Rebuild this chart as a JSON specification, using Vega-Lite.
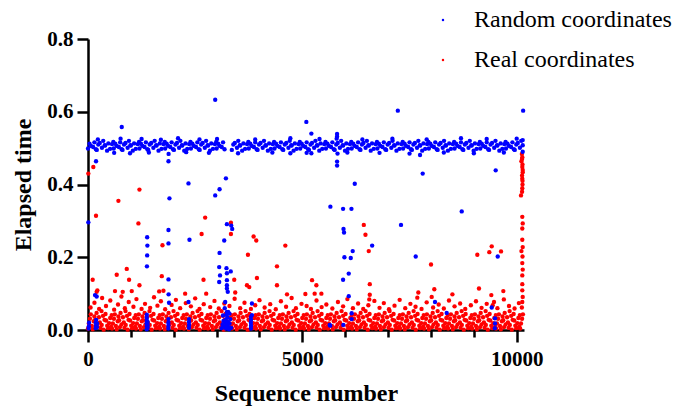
{"$schema":"https://vega.github.io/schema/vega-lite/v6.json","width":436,"height":291,"autosize":{"type":"none"},"padding":{"left":88,"top":39,"right":156,"bottom":77},"background":"white",
"config":{"view":{"stroke":null},"axis":{"grid":false,"domainColor":"black","domainWidth":2.5,"tickColor":"black","tickWidth":2.5,"labelFont":"Liberation Serif","labelFontWeight":"bold","labelFontSize":21,"labelColor":"black","titleFont":"Liberation Serif","titleFontWeight":"bold","titleFontSize":24,"titleColor":"black"},"legend":{"orient":"none","legendX":343,"legendY":-31,"padding":0,"labelFont":"Liberation Serif","labelFontSize":24,"labelColor":"black","labelLimit":0,"symbolSize":6,"symbolType":"circle","rowPadding":16,"labelOffset":19,"title":null}},
"datasets":{"real":[
{"x":8,"y":0.43},{"x":124,"y":0.448},{"x":1200,"y":0.386},{"x":709,"y":0.355},{"x":187,"y":0.314},{"x":1176,"y":0.293},{"x":2733,"y":0.309},{"x":2650,"y":0.264},{"x":1737,"y":0.233},{"x":109,"y":0.138},{"x":904,"y":0.168},{"x":670,"y":0.152},{"x":958,"y":0.138},{"x":1721,"y":0.148},{"x":1200,"y":0.123},{"x":2694,"y":0.138},{"x":218,"y":0.109},
{"x":3334,"y":0.295},{"x":3334,"y":0.264},{"x":3863,"y":0.257},{"x":3925,"y":0.246},{"x":3731,"y":0.207},{"x":4603,"y":0.232},{"x":6433,"y":0.289},{"x":6472,"y":0.262},{"x":6549,"y":0.217},{"x":4408,"y":0.175},{"x":3411,"y":0.138},{"x":3941,"y":0.143},{"x":3708,"y":0.123},{"x":3762,"y":0.118},{"x":4408,"y":0.123},{"x":5226,"y":0.137},{"x":5327,"y":0.123},{"x":6573,"y":0.126},{"x":6561,"y":0.084},
{"x":8001,"y":0.18},{"x":9081,"y":0.207},{"x":9361,"y":0.214},{"x":9417,"y":0.23},{"x":9634,"y":0.216},{"x":7705,"y":0.103},{"x":7681,"y":0.089},{"x":8078,"y":0.112},{"x":8017,"y":0.091},{"x":9120,"y":0.114},{"x":9688,"y":0.107},{"x":9408,"y":0.096},{"x":9470,"y":0.077},{"x":9440,"y":0.068},
{"x":10120,"y":0.484},{"x":10130,"y":0.475},{"x":10125,"y":0.47},{"x":10110,"y":0.464},{"x":10135,"y":0.455},{"x":10130,"y":0.448},{"x":10140,"y":0.44},{"x":10140,"y":0.434},{"x":10125,"y":0.425},{"x":10130,"y":0.416},{"x":10135,"y":0.41},{"x":10135,"y":0.4},{"x":10130,"y":0.39},{"x":10125,"y":0.38},{"x":10100,"y":0.37},{"x":10130,"y":0.311},{"x":10140,"y":0.293},{"x":10130,"y":0.279},{"x":10130,"y":0.248},{"x":10140,"y":0.228},{"x":10110,"y":0.217},{"x":10135,"y":0.202},{"x":10130,"y":0.184},{"x":10140,"y":0.166},{"x":10130,"y":0.15},{"x":10130,"y":0.126},{"x":10130,"y":0.109},{"x":10140,"y":0.091},{"x":10130,"y":0.077},{"x":10120,"y":0.062},
{"x":202,"y":0.105},{"x":630,"y":0.107},{"x":810,"y":0.105},{"x":1020,"y":0.107},{"x":1660,"y":0.106},{"x":1760,"y":0.108},{"x":2266,"y":0.1},{"x":2757,"y":0.1},{"x":3434,"y":0.103},{"x":4642,"y":0.098},{"x":5070,"y":0.099},{"x":5287,"y":0.1},{"x":5444,"y":0.1},{"x":6572,"y":0.097},{"x":8500,"y":0.098},
{"x":60,"y":0.062},{"x":150,"y":0.075},{"x":260,"y":0.058},{"x":330,"y":0.088},{"x":420,"y":0.066},{"x":520,"y":0.081},{"x":610,"y":0.056},{"x":700,"y":0.07},{"x":780,"y":0.092},{"x":860,"y":0.06},{"x":950,"y":0.077},{"x":1060,"y":0.064},{"x":1130,"y":0.085},{"x":1250,"y":0.058},{"x":1330,"y":0.072},{"x":1450,"y":0.061},{"x":1540,"y":0.09},{"x":1620,"y":0.067},{"x":1700,"y":0.079},{"x":1800,"y":0.057},{"x":1950,"y":0.069},{"x":2050,"y":0.083},{"x":2150,"y":0.06},{"x":2280,"y":0.074},{"x":2400,"y":0.065},{"x":2500,"y":0.087},{"x":2600,"y":0.058},{"x":2700,"y":0.071},{"x":2850,"y":0.063},{"x":2950,"y":0.08},{"x":3050,"y":0.059},{"x":3180,"y":0.073},{"x":3300,"y":0.066},{"x":3420,"y":0.086},{"x":3550,"y":0.06},{"x":3650,"y":0.075},{"x":3800,"y":0.058},{"x":3900,"y":0.068},{"x":4000,"y":0.082},{"x":4120,"y":0.062},{"x":4250,"y":0.071},{"x":4380,"y":0.057},{"x":4500,"y":0.079},{"x":4620,"y":0.064},{"x":4750,"y":0.088},{"x":4850,"y":0.06},{"x":4980,"y":0.072},{"x":5100,"y":0.066},{"x":5200,"y":0.058},{"x":5330,"y":0.081},{"x":5450,"y":0.063},{"x":5560,"y":0.07},{"x":5700,"y":0.059},{"x":5830,"y":0.077},{"x":5950,"y":0.065},{"x":6050,"y":0.085},{"x":6180,"y":0.06},{"x":6300,"y":0.073},{"x":6420,"y":0.058},{"x":6540,"y":0.068},{"x":6680,"y":0.08},{"x":6800,"y":0.061},{"x":6900,"y":0.074},{"x":7020,"y":0.057},{"x":7150,"y":0.067},{"x":7270,"y":0.083},{"x":7400,"y":0.06},{"x":7520,"y":0.072},{"x":7640,"y":0.064},{"x":7780,"y":0.058},{"x":7900,"y":0.076},{"x":8050,"y":0.062},{"x":8180,"y":0.07},{"x":8300,"y":0.059},{"x":8420,"y":0.081},{"x":8550,"y":0.065},{"x":8680,"y":0.073},{"x":8800,"y":0.058},{"x":8930,"y":0.068},{"x":9050,"y":0.079},{"x":9180,"y":0.061},{"x":9300,"y":0.072},{"x":9550,"y":0.06},{"x":9700,"y":0.084},{"x":9820,"y":0.066},{"x":9950,"y":0.059},{"x":10050,"y":0.074},
{"x":0,"y":0.004},{"x":20,"y":0.018},{"x":45,"y":0.031},{"x":65,"y":0.043},
{"x":90,"y":0.011},{"x":110,"y":0.002},{"x":135,"y":0.024},{"x":150,"y":0.037},
{"x":165,"y":0.027},{"x":185,"y":0.008},{"x":200,"y":0.047},{"x":220,"y":0.015},
{"x":255,"y":0.035},{"x":275,"y":0.021},{"x":290,"y":0.006},{"x":315,"y":0.052},
{"x":320,"y":0.014},{"x":350,"y":0.039},{"x":365,"y":0.001},{"x":385,"y":0.028},
{"x":408,"y":0.044},{"x":422,"y":0.026},{"x":448,"y":0.012},{"x":470,"y":0.005},
{"x":492,"y":0.019},{"x":518,"y":0.033},{"x":538,"y":0.009},{"x":552,"y":0.041},
{"x":560,"y":0.004},{"x":580,"y":0.018},{"x":605,"y":0.031},{"x":625,"y":0.043},
{"x":650,"y":0.011},{"x":670,"y":0.002},{"x":695,"y":0.024},{"x":710,"y":0.037},
{"x":725,"y":0.027},{"x":745,"y":0.008},{"x":760,"y":0.047},{"x":780,"y":0.015},
{"x":815,"y":0.035},{"x":835,"y":0.021},{"x":850,"y":0.006},{"x":875,"y":0.052},
{"x":880,"y":0.014},{"x":910,"y":0.039},{"x":925,"y":0.001},{"x":945,"y":0.028},
{"x":968,"y":0.044},{"x":982,"y":0.026},{"x":1008,"y":0.012},{"x":1030,"y":0.005},
{"x":1052,"y":0.019},{"x":1078,"y":0.033},{"x":1098,"y":0.009},{"x":1112,"y":0.041},
{"x":1120,"y":0.004},{"x":1140,"y":0.018},{"x":1165,"y":0.031},{"x":1185,"y":0.043},
{"x":1210,"y":0.011},{"x":1230,"y":0.002},{"x":1255,"y":0.024},{"x":1270,"y":0.037},
{"x":1285,"y":0.027},{"x":1305,"y":0.008},{"x":1320,"y":0.047},{"x":1340,"y":0.015},
{"x":1375,"y":0.035},{"x":1395,"y":0.021},{"x":1410,"y":0.006},{"x":1435,"y":0.052},
{"x":1440,"y":0.014},{"x":1470,"y":0.039},{"x":1485,"y":0.001},{"x":1505,"y":0.028},
{"x":1528,"y":0.044},{"x":1542,"y":0.026},{"x":1568,"y":0.012},{"x":1590,"y":0.005},
{"x":1612,"y":0.019},{"x":1638,"y":0.033},{"x":1658,"y":0.009},{"x":1672,"y":0.041},
{"x":1680,"y":0.004},{"x":1700,"y":0.018},{"x":1725,"y":0.031},{"x":1745,"y":0.043},
{"x":1770,"y":0.011},{"x":1790,"y":0.002},{"x":1815,"y":0.024},{"x":1830,"y":0.037},
{"x":1845,"y":0.027},{"x":1865,"y":0.008},{"x":1880,"y":0.047},{"x":1900,"y":0.015},
{"x":1935,"y":0.035},{"x":1955,"y":0.021},{"x":1970,"y":0.006},{"x":1995,"y":0.052},
{"x":2000,"y":0.014},{"x":2030,"y":0.039},{"x":2045,"y":0.001},{"x":2065,"y":0.028},
{"x":2088,"y":0.044},{"x":2102,"y":0.026},{"x":2128,"y":0.012},{"x":2150,"y":0.005},
{"x":2172,"y":0.019},{"x":2198,"y":0.033},{"x":2218,"y":0.009},{"x":2232,"y":0.041},
{"x":2240,"y":0.004},{"x":2260,"y":0.018},{"x":2285,"y":0.031},{"x":2305,"y":0.043},
{"x":2330,"y":0.011},{"x":2350,"y":0.002},{"x":2375,"y":0.024},{"x":2390,"y":0.037},
{"x":2405,"y":0.027},{"x":2425,"y":0.008},{"x":2440,"y":0.047},{"x":2460,"y":0.015},
{"x":2495,"y":0.035},{"x":2515,"y":0.021},{"x":2530,"y":0.006},{"x":2555,"y":0.052},
{"x":2560,"y":0.014},{"x":2590,"y":0.039},{"x":2605,"y":0.001},{"x":2625,"y":0.028},
{"x":2648,"y":0.044},{"x":2662,"y":0.026},{"x":2688,"y":0.012},{"x":2710,"y":0.005},
{"x":2732,"y":0.019},{"x":2758,"y":0.033},{"x":2778,"y":0.009},{"x":2792,"y":0.041},
{"x":2800,"y":0.004},{"x":2820,"y":0.018},{"x":2845,"y":0.031},{"x":2865,"y":0.043},
{"x":2890,"y":0.011},{"x":2910,"y":0.002},{"x":2935,"y":0.024},{"x":2950,"y":0.037},
{"x":2965,"y":0.027},{"x":2985,"y":0.008},{"x":3000,"y":0.047},{"x":3020,"y":0.015},
{"x":3055,"y":0.035},{"x":3075,"y":0.021},{"x":3090,"y":0.006},{"x":3115,"y":0.052},
{"x":3120,"y":0.014},{"x":3150,"y":0.039},{"x":3165,"y":0.001},{"x":3185,"y":0.028},
{"x":3208,"y":0.044},{"x":3222,"y":0.026},{"x":3248,"y":0.012},{"x":3270,"y":0.005},
{"x":3292,"y":0.019},{"x":3318,"y":0.033},{"x":3338,"y":0.009},{"x":3352,"y":0.041},
{"x":3360,"y":0.004},{"x":3380,"y":0.018},{"x":3405,"y":0.031},{"x":3425,"y":0.043},
{"x":3450,"y":0.011},{"x":3470,"y":0.002},{"x":3495,"y":0.024},{"x":3510,"y":0.037},
{"x":3525,"y":0.027},{"x":3545,"y":0.008},{"x":3560,"y":0.047},{"x":3580,"y":0.015},
{"x":3615,"y":0.035},{"x":3635,"y":0.021},{"x":3650,"y":0.006},{"x":3675,"y":0.052},
{"x":3680,"y":0.014},{"x":3710,"y":0.039},{"x":3725,"y":0.001},{"x":3745,"y":0.028},
{"x":3768,"y":0.044},{"x":3782,"y":0.026},{"x":3808,"y":0.012},{"x":3830,"y":0.005},
{"x":3852,"y":0.019},{"x":3878,"y":0.033},{"x":3898,"y":0.009},{"x":3912,"y":0.041},
{"x":3920,"y":0.004},{"x":3940,"y":0.018},{"x":3965,"y":0.031},{"x":3985,"y":0.043},
{"x":4010,"y":0.011},{"x":4030,"y":0.002},{"x":4055,"y":0.024},{"x":4070,"y":0.037},
{"x":4085,"y":0.027},{"x":4105,"y":0.008},{"x":4120,"y":0.047},{"x":4140,"y":0.015},
{"x":4175,"y":0.035},{"x":4195,"y":0.021},{"x":4210,"y":0.006},{"x":4235,"y":0.052},
{"x":4240,"y":0.014},{"x":4270,"y":0.039},{"x":4285,"y":0.001},{"x":4305,"y":0.028},
{"x":4328,"y":0.044},{"x":4342,"y":0.026},{"x":4368,"y":0.012},{"x":4390,"y":0.005},
{"x":4412,"y":0.019},{"x":4438,"y":0.033},{"x":4458,"y":0.009},{"x":4472,"y":0.041},
{"x":4480,"y":0.004},{"x":4500,"y":0.018},{"x":4525,"y":0.031},{"x":4545,"y":0.043},
{"x":4570,"y":0.011},{"x":4590,"y":0.002},{"x":4615,"y":0.024},{"x":4630,"y":0.037},
{"x":4645,"y":0.027},{"x":4665,"y":0.008},{"x":4680,"y":0.047},{"x":4700,"y":0.015},
{"x":4735,"y":0.035},{"x":4755,"y":0.021},{"x":4770,"y":0.006},{"x":4795,"y":0.052},
{"x":4800,"y":0.014},{"x":4830,"y":0.039},{"x":4845,"y":0.001},{"x":4865,"y":0.028},
{"x":4888,"y":0.044},{"x":4902,"y":0.026},{"x":4928,"y":0.012},{"x":4950,"y":0.005},
{"x":4972,"y":0.019},{"x":4998,"y":0.033},{"x":5018,"y":0.009},{"x":5032,"y":0.041},
{"x":5040,"y":0.004},{"x":5060,"y":0.018},{"x":5085,"y":0.031},{"x":5105,"y":0.043},
{"x":5130,"y":0.011},{"x":5150,"y":0.002},{"x":5175,"y":0.024},{"x":5190,"y":0.037},
{"x":5205,"y":0.027},{"x":5225,"y":0.008},{"x":5240,"y":0.047},{"x":5260,"y":0.015},
{"x":5295,"y":0.035},{"x":5315,"y":0.021},{"x":5330,"y":0.006},{"x":5355,"y":0.052},
{"x":5360,"y":0.014},{"x":5390,"y":0.039},{"x":5405,"y":0.001},{"x":5425,"y":0.028},
{"x":5448,"y":0.044},{"x":5462,"y":0.026},{"x":5488,"y":0.012},{"x":5510,"y":0.005},
{"x":5532,"y":0.019},{"x":5558,"y":0.033},{"x":5578,"y":0.009},{"x":5592,"y":0.041},
{"x":5600,"y":0.004},{"x":5620,"y":0.018},{"x":5645,"y":0.031},{"x":5665,"y":0.043},
{"x":5690,"y":0.011},{"x":5710,"y":0.002},{"x":5735,"y":0.024},{"x":5750,"y":0.037},
{"x":5765,"y":0.027},{"x":5785,"y":0.008},{"x":5800,"y":0.047},{"x":5820,"y":0.015},
{"x":5855,"y":0.035},{"x":5875,"y":0.021},{"x":5890,"y":0.006},{"x":5915,"y":0.052},
{"x":5920,"y":0.014},{"x":5950,"y":0.039},{"x":5965,"y":0.001},{"x":5985,"y":0.028},
{"x":6008,"y":0.044},{"x":6022,"y":0.026},{"x":6048,"y":0.012},{"x":6070,"y":0.005},
{"x":6092,"y":0.019},{"x":6118,"y":0.033},{"x":6138,"y":0.009},{"x":6152,"y":0.041},
{"x":6160,"y":0.004},{"x":6180,"y":0.018},{"x":6205,"y":0.031},{"x":6225,"y":0.043},
{"x":6250,"y":0.011},{"x":6270,"y":0.002},{"x":6295,"y":0.024},{"x":6310,"y":0.037},
{"x":6325,"y":0.027},{"x":6345,"y":0.008},{"x":6360,"y":0.047},{"x":6380,"y":0.015},
{"x":6415,"y":0.035},{"x":6435,"y":0.021},{"x":6450,"y":0.006},{"x":6475,"y":0.052},
{"x":6480,"y":0.014},{"x":6510,"y":0.039},{"x":6525,"y":0.001},{"x":6545,"y":0.028},
{"x":6568,"y":0.044},{"x":6582,"y":0.026},{"x":6608,"y":0.012},{"x":6630,"y":0.005},
{"x":6652,"y":0.019},{"x":6678,"y":0.033},{"x":6698,"y":0.009},{"x":6712,"y":0.041},
{"x":6720,"y":0.004},{"x":6740,"y":0.018},{"x":6765,"y":0.031},{"x":6785,"y":0.043},
{"x":6810,"y":0.011},{"x":6830,"y":0.002},{"x":6855,"y":0.024},{"x":6870,"y":0.037},
{"x":6885,"y":0.027},{"x":6905,"y":0.008},{"x":6920,"y":0.047},{"x":6940,"y":0.015},
{"x":6975,"y":0.035},{"x":6995,"y":0.021},{"x":7010,"y":0.006},{"x":7035,"y":0.052},
{"x":7040,"y":0.014},{"x":7070,"y":0.039},{"x":7085,"y":0.001},{"x":7105,"y":0.028},
{"x":7128,"y":0.044},{"x":7142,"y":0.026},{"x":7168,"y":0.012},{"x":7190,"y":0.005},
{"x":7212,"y":0.019},{"x":7238,"y":0.033},{"x":7258,"y":0.009},{"x":7272,"y":0.041},
{"x":7280,"y":0.004},{"x":7300,"y":0.018},{"x":7325,"y":0.031},{"x":7345,"y":0.043},
{"x":7370,"y":0.011},{"x":7390,"y":0.002},{"x":7415,"y":0.024},{"x":7430,"y":0.037},
{"x":7445,"y":0.027},{"x":7465,"y":0.008},{"x":7480,"y":0.047},{"x":7500,"y":0.015},
{"x":7535,"y":0.035},{"x":7555,"y":0.021},{"x":7570,"y":0.006},{"x":7595,"y":0.052},
{"x":7600,"y":0.014},{"x":7630,"y":0.039},{"x":7645,"y":0.001},{"x":7665,"y":0.028},
{"x":7688,"y":0.044},{"x":7702,"y":0.026},{"x":7728,"y":0.012},{"x":7750,"y":0.005},
{"x":7772,"y":0.019},{"x":7798,"y":0.033},{"x":7818,"y":0.009},{"x":7832,"y":0.041},
{"x":7840,"y":0.004},{"x":7860,"y":0.018},{"x":7885,"y":0.031},{"x":7905,"y":0.043},
{"x":7930,"y":0.011},{"x":7950,"y":0.002},{"x":7975,"y":0.024},{"x":7990,"y":0.037},
{"x":8005,"y":0.027},{"x":8025,"y":0.008},{"x":8040,"y":0.047},{"x":8060,"y":0.015},
{"x":8095,"y":0.035},{"x":8115,"y":0.021},{"x":8130,"y":0.006},{"x":8155,"y":0.052},
{"x":8160,"y":0.014},{"x":8190,"y":0.039},{"x":8205,"y":0.001},{"x":8225,"y":0.028},
{"x":8248,"y":0.044},{"x":8262,"y":0.026},{"x":8288,"y":0.012},{"x":8310,"y":0.005},
{"x":8332,"y":0.019},{"x":8358,"y":0.033},{"x":8378,"y":0.009},{"x":8392,"y":0.041},
{"x":8400,"y":0.004},{"x":8420,"y":0.018},{"x":8445,"y":0.031},{"x":8465,"y":0.043},
{"x":8490,"y":0.011},{"x":8510,"y":0.002},{"x":8535,"y":0.024},{"x":8550,"y":0.037},
{"x":8565,"y":0.027},{"x":8585,"y":0.008},{"x":8600,"y":0.047},{"x":8620,"y":0.015},
{"x":8655,"y":0.035},{"x":8675,"y":0.021},{"x":8690,"y":0.006},{"x":8715,"y":0.052},
{"x":8720,"y":0.014},{"x":8750,"y":0.039},{"x":8765,"y":0.001},{"x":8785,"y":0.028},
{"x":8808,"y":0.044},{"x":8822,"y":0.026},{"x":8848,"y":0.012},{"x":8870,"y":0.005},
{"x":8892,"y":0.019},{"x":8918,"y":0.033},{"x":8938,"y":0.009},{"x":8952,"y":0.041},
{"x":8960,"y":0.004},{"x":8980,"y":0.018},{"x":9005,"y":0.031},{"x":9025,"y":0.043},
{"x":9050,"y":0.011},{"x":9070,"y":0.002},{"x":9095,"y":0.024},{"x":9110,"y":0.037},
{"x":9125,"y":0.027},{"x":9145,"y":0.008},{"x":9160,"y":0.047},{"x":9180,"y":0.015},
{"x":9215,"y":0.035},{"x":9235,"y":0.021},{"x":9250,"y":0.006},{"x":9275,"y":0.052},
{"x":9280,"y":0.014},{"x":9310,"y":0.039},{"x":9325,"y":0.001},{"x":9345,"y":0.028},
{"x":9368,"y":0.044},{"x":9382,"y":0.026},{"x":9408,"y":0.012},{"x":9430,"y":0.005},
{"x":9452,"y":0.019},{"x":9478,"y":0.033},{"x":9498,"y":0.009},{"x":9512,"y":0.041},
{"x":9520,"y":0.004},{"x":9540,"y":0.018},{"x":9565,"y":0.031},{"x":9585,"y":0.043},
{"x":9610,"y":0.011},{"x":9630,"y":0.002},{"x":9655,"y":0.024},{"x":9670,"y":0.037},
{"x":9685,"y":0.027},{"x":9705,"y":0.008},{"x":9720,"y":0.047},{"x":9740,"y":0.015},
{"x":9775,"y":0.035},{"x":9795,"y":0.021},{"x":9810,"y":0.006},{"x":9835,"y":0.052},
{"x":9840,"y":0.014},{"x":9870,"y":0.039},{"x":9885,"y":0.001},{"x":9905,"y":0.028},
{"x":9928,"y":0.044},{"x":9942,"y":0.026},{"x":9968,"y":0.012},{"x":9990,"y":0.005},
{"x":10012,"y":0.019},{"x":10038,"y":0.033},{"x":10058,"y":0.009},{"x":10072,"y":0.041},
{"x":10080,"y":0.004},{"x":10100,"y":0.018},{"x":10125,"y":0.031},{"x":10145,"y":0.043}
],
"random":[
{"x":0,"y":0.499},{"x":35,"y":0.512},{"x":70,"y":0.506},
{"x":120,"y":0.503},{"x":150,"y":0.516},{"x":185,"y":0.497},
{"x":205,"y":0.495},{"x":240,"y":0.51},{"x":275,"y":0.514},
{"x":325,"y":0.501},{"x":355,"y":0.52},{"x":390,"y":0.508},
{"x":400,"y":0.507},{"x":445,"y":0.493},{"x":475,"y":0.513},
{"x":515,"y":0.498},{"x":560,"y":0.511},{"x":590,"y":0.517},
{"x":600,"y":0.499},{"x":635,"y":0.512},{"x":670,"y":0.506},
{"x":720,"y":0.503},{"x":750,"y":0.516},{"x":785,"y":0.497},
{"x":805,"y":0.495},{"x":840,"y":0.51},{"x":875,"y":0.514},
{"x":925,"y":0.501},{"x":955,"y":0.52},{"x":990,"y":0.508},
{"x":1000,"y":0.507},{"x":1045,"y":0.493},{"x":1075,"y":0.513},
{"x":1115,"y":0.498},{"x":1160,"y":0.511},{"x":1190,"y":0.517},
{"x":1200,"y":0.499},{"x":1235,"y":0.512},{"x":1270,"y":0.506},
{"x":1320,"y":0.503},{"x":1350,"y":0.516},{"x":1385,"y":0.497},
{"x":1405,"y":0.495},{"x":1440,"y":0.51},{"x":1475,"y":0.514},
{"x":1525,"y":0.501},{"x":1555,"y":0.52},{"x":1590,"y":0.508},
{"x":1600,"y":0.507},{"x":1645,"y":0.493},{"x":1675,"y":0.513},
{"x":1715,"y":0.498},{"x":1760,"y":0.511},{"x":1790,"y":0.517},
{"x":1800,"y":0.499},{"x":1835,"y":0.512},{"x":1870,"y":0.506},
{"x":1920,"y":0.503},{"x":1950,"y":0.516},{"x":1985,"y":0.497},
{"x":2005,"y":0.495},{"x":2040,"y":0.51},{"x":2075,"y":0.514},
{"x":2125,"y":0.501},{"x":2155,"y":0.52},{"x":2190,"y":0.508},
{"x":2200,"y":0.507},{"x":2245,"y":0.493},{"x":2275,"y":0.513},
{"x":2315,"y":0.498},{"x":2360,"y":0.511},{"x":2390,"y":0.517},
{"x":2400,"y":0.499},{"x":2435,"y":0.512},{"x":2470,"y":0.506},
{"x":2520,"y":0.503},{"x":2550,"y":0.516},{"x":2585,"y":0.497},
{"x":2605,"y":0.495},{"x":2640,"y":0.51},{"x":2675,"y":0.514},
{"x":2725,"y":0.501},{"x":2755,"y":0.52},{"x":2790,"y":0.508},
{"x":2800,"y":0.507},{"x":2845,"y":0.493},{"x":2875,"y":0.513},
{"x":2915,"y":0.498},{"x":2960,"y":0.511},{"x":2990,"y":0.517},
{"x":3000,"y":0.499},{"x":3035,"y":0.512},{"x":3070,"y":0.506},
{"x":3120,"y":0.503},{"x":3150,"y":0.516},{"x":3185,"y":0.497},
{"x":3355,"y":0.495},{"x":3390,"y":0.51},{"x":3425,"y":0.514},
{"x":3475,"y":0.501},{"x":3505,"y":0.52},{"x":3540,"y":0.508},
{"x":3550,"y":0.507},{"x":3595,"y":0.493},{"x":3625,"y":0.513},
{"x":3665,"y":0.498},{"x":3710,"y":0.511},{"x":3740,"y":0.517},
{"x":3750,"y":0.499},{"x":3785,"y":0.512},{"x":3820,"y":0.506},
{"x":3870,"y":0.503},{"x":3900,"y":0.516},{"x":3935,"y":0.497},
{"x":3955,"y":0.495},{"x":3990,"y":0.51},{"x":4025,"y":0.514},
{"x":4075,"y":0.501},{"x":4105,"y":0.52},{"x":4140,"y":0.508},
{"x":4150,"y":0.507},{"x":4195,"y":0.493},{"x":4225,"y":0.513},
{"x":4265,"y":0.498},{"x":4310,"y":0.511},{"x":4340,"y":0.517},
{"x":4350,"y":0.499},{"x":4385,"y":0.512},{"x":4420,"y":0.506},
{"x":4470,"y":0.503},{"x":4500,"y":0.516},{"x":4535,"y":0.497},
{"x":4555,"y":0.495},{"x":4590,"y":0.51},{"x":4625,"y":0.514},
{"x":4675,"y":0.501},{"x":4705,"y":0.52},{"x":4740,"y":0.508},
{"x":4750,"y":0.507},{"x":4795,"y":0.493},{"x":4825,"y":0.513},
{"x":4865,"y":0.498},{"x":4910,"y":0.511},{"x":4940,"y":0.517},
{"x":4950,"y":0.499},{"x":4985,"y":0.512},{"x":5020,"y":0.506},
{"x":5070,"y":0.503},{"x":5100,"y":0.516},{"x":5135,"y":0.497},
{"x":5155,"y":0.495},{"x":5190,"y":0.51},{"x":5225,"y":0.514},
{"x":5275,"y":0.501},{"x":5305,"y":0.52},{"x":5340,"y":0.508},
{"x":5350,"y":0.507},{"x":5395,"y":0.493},{"x":5425,"y":0.513},
{"x":5465,"y":0.498},{"x":5510,"y":0.511},{"x":5540,"y":0.517},
{"x":5550,"y":0.499},{"x":5585,"y":0.512},{"x":5620,"y":0.506},
{"x":5670,"y":0.503},{"x":5700,"y":0.516},{"x":5735,"y":0.497},
{"x":5755,"y":0.495},{"x":5790,"y":0.51},{"x":5825,"y":0.514},
{"x":5875,"y":0.501},{"x":5905,"y":0.52},{"x":5940,"y":0.508},
{"x":5950,"y":0.507},{"x":5995,"y":0.493},{"x":6025,"y":0.513},
{"x":6065,"y":0.498},{"x":6110,"y":0.511},{"x":6140,"y":0.517},
{"x":6150,"y":0.499},{"x":6185,"y":0.512},{"x":6220,"y":0.506},
{"x":6270,"y":0.503},{"x":6300,"y":0.516},{"x":6335,"y":0.497},
{"x":6355,"y":0.495},{"x":6390,"y":0.51},{"x":6425,"y":0.514},
{"x":6475,"y":0.501},{"x":6505,"y":0.52},{"x":6540,"y":0.508},
{"x":6550,"y":0.507},{"x":6595,"y":0.493},{"x":6625,"y":0.513},
{"x":6665,"y":0.498},{"x":6710,"y":0.511},{"x":6740,"y":0.517},
{"x":6750,"y":0.499},{"x":6785,"y":0.512},{"x":6820,"y":0.506},
{"x":6870,"y":0.503},{"x":6900,"y":0.516},{"x":6935,"y":0.497},
{"x":6955,"y":0.495},{"x":6990,"y":0.51},{"x":7025,"y":0.514},
{"x":7075,"y":0.501},{"x":7105,"y":0.52},{"x":7140,"y":0.508},
{"x":7150,"y":0.507},{"x":7195,"y":0.493},{"x":7225,"y":0.513},
{"x":7265,"y":0.498},{"x":7310,"y":0.511},{"x":7340,"y":0.517},
{"x":7350,"y":0.499},{"x":7385,"y":0.512},{"x":7420,"y":0.506},
{"x":7470,"y":0.503},{"x":7500,"y":0.516},{"x":7535,"y":0.497},
{"x":7555,"y":0.495},{"x":7590,"y":0.51},{"x":7625,"y":0.514},
{"x":7675,"y":0.501},{"x":7705,"y":0.52},{"x":7740,"y":0.508},
{"x":7750,"y":0.507},{"x":7795,"y":0.493},{"x":7825,"y":0.513},
{"x":7865,"y":0.498},{"x":7910,"y":0.511},{"x":7940,"y":0.517},
{"x":7950,"y":0.499},{"x":7985,"y":0.512},{"x":8020,"y":0.506},
{"x":8070,"y":0.503},{"x":8100,"y":0.516},{"x":8135,"y":0.497},
{"x":8155,"y":0.495},{"x":8190,"y":0.51},{"x":8225,"y":0.514},
{"x":8275,"y":0.501},{"x":8305,"y":0.52},{"x":8340,"y":0.508},
{"x":8350,"y":0.507},{"x":8395,"y":0.493},{"x":8425,"y":0.513},
{"x":8465,"y":0.498},{"x":8510,"y":0.511},{"x":8540,"y":0.517},
{"x":8550,"y":0.499},{"x":8585,"y":0.512},{"x":8620,"y":0.506},
{"x":8670,"y":0.503},{"x":8700,"y":0.516},{"x":8735,"y":0.497},
{"x":8755,"y":0.495},{"x":8790,"y":0.51},{"x":8825,"y":0.514},
{"x":8875,"y":0.501},{"x":8905,"y":0.52},{"x":8940,"y":0.508},
{"x":8950,"y":0.507},{"x":8995,"y":0.493},{"x":9025,"y":0.513},
{"x":9065,"y":0.498},{"x":9110,"y":0.511},{"x":9140,"y":0.517},
{"x":9150,"y":0.499},{"x":9185,"y":0.512},{"x":9220,"y":0.506},
{"x":9270,"y":0.503},{"x":9300,"y":0.516},{"x":9335,"y":0.497},
{"x":9355,"y":0.495},{"x":9390,"y":0.51},{"x":9425,"y":0.514},
{"x":9475,"y":0.501},{"x":9505,"y":0.52},{"x":9540,"y":0.508},
{"x":9550,"y":0.507},{"x":9595,"y":0.493},{"x":9625,"y":0.513},
{"x":9665,"y":0.498},{"x":9710,"y":0.511},{"x":9740,"y":0.517},
{"x":9750,"y":0.499},{"x":9785,"y":0.512},{"x":9820,"y":0.506},
{"x":9870,"y":0.503},{"x":9900,"y":0.516},{"x":9935,"y":0.497},
{"x":9955,"y":0.495},{"x":9990,"y":0.51},{"x":10025,"y":0.514},
{"x":10075,"y":0.501},{"x":10105,"y":0.52},{"x":10140,"y":0.508},
{"x":230,"y":0.524},{"x":610,"y":0.487},{"x":760,"y":0.526},{"x":980,"y":0.486},{"x":1250,"y":0.525},{"x":1420,"y":0.488},{"x":1700,"y":0.523},{"x":1880,"y":0.484},{"x":2100,"y":0.527},{"x":2290,"y":0.489},{"x":2600,"y":0.524},{"x":2820,"y":0.487},{"x":3010,"y":0.525},{"x":3500,"y":0.486},{"x":3900,"y":0.524},{"x":4300,"y":0.488},{"x":4720,"y":0.527},{"x":5100,"y":0.487},{"x":5400,"y":0.525},{"x":5800,"y":0.526},{"x":5820,"y":0.485},{"x":6050,"y":0.488},{"x":6400,"y":0.524},{"x":6800,"y":0.487},{"x":7100,"y":0.526},{"x":7500,"y":0.485},{"x":7900,"y":0.524},{"x":8300,"y":0.488},{"x":8700,"y":0.527},{"x":9000,"y":0.486},{"x":9300,"y":0.525},{"x":9700,"y":0.488},{"x":10000,"y":0.526},{"x":10140,"y":0.522},{"x":10140,"y":0.49},
{"x":2967,"y":0.633},{"x":787,"y":0.558},{"x":187,"y":0.464},{"x":1877,"y":0.464},{"x":2344,"y":0.403},{"x":3217,"y":0.417},{"x":3069,"y":0.387},{"x":2967,"y":0.37},{"x":1900,"y":0.362},{"x":8,"y":0.296},{"x":3240,"y":0.291},{"x":3341,"y":0.287},{"x":3364,"y":0.278},{"x":1877,"y":0.275},{"x":1877,"y":0.238},{"x":2367,"y":0.248},{"x":1380,"y":0.255},{"x":1385,"y":0.232},{"x":1380,"y":0.205},{"x":1375,"y":0.175},{"x":3178,"y":0.246},{"x":3069,"y":0.212},{"x":3060,"y":0.173},{"x":3080,"y":0.15},{"x":3060,"y":0.132},{"x":3230,"y":0.17},{"x":3240,"y":0.156},{"x":3330,"y":0.161},{"x":3240,"y":0.137},{"x":3240,"y":0.123},{"x":3240,"y":0.114},{"x":3260,"y":0.105},{"x":3200,"y":0.077},{"x":3240,"y":0.05},{"x":1877,"y":0.139},{"x":1880,"y":0.098},{"x":1890,"y":0.075},{"x":164,"y":0.096},{"x":202,"y":0.092},{"x":2344,"y":0.077},{"x":3824,"y":0.073},{"x":3824,"y":0.041},{"x":5654,"y":0.339},{"x":5638,"y":0.014},
{"x":5093,"y":0.572},{"x":5210,"y":0.54},{"x":5810,"y":0.539},{"x":5810,"y":0.532},{"x":5810,"y":0.463},{"x":5810,"y":0.452},{"x":4720,"y":0.486},{"x":5210,"y":0.486},{"x":6222,"y":0.402},{"x":5950,"y":0.333},{"x":6145,"y":0.333},{"x":5960,"y":0.278},{"x":5972,"y":0.268},{"x":6628,"y":0.232},{"x":5981,"y":0.2},{"x":6129,"y":0.198},{"x":6174,"y":0.217},{"x":6082,"y":0.155},{"x":5950,"y":0.138},{"x":6082,"y":0.093},{"x":6150,"y":0.046},{"x":5956,"y":0.014},{"x":5650,"y":0.012},
{"x":7227,"y":0.603},{"x":10150,"y":0.603},{"x":7745,"y":0.481},{"x":7807,"y":0.43},{"x":9510,"y":0.439},{"x":8717,"y":0.326},{"x":7301,"y":0.289},{"x":7644,"y":0.202},{"x":9557,"y":0.202},{"x":8094,"y":0.077},{"x":8367,"y":0.047},{"x":9417,"y":0.062},{"x":9494,"y":0.032},{"x":9494,"y":0.018},
{"x":20,"y":0.01},{"x":25,"y":0.02},{"x":15,"y":0.004},{"x":180,"y":0.005},{"x":185,"y":0.012},{"x":180,"y":0.02},{"x":190,"y":0.028},{"x":210,"y":0.008},{"x":212,"y":0.018},
{"x":1370,"y":0.002},{"x":1372,"y":0.01},{"x":1368,"y":0.018},{"x":1372,"y":0.026},{"x":1370,"y":0.034},{"x":1372,"y":0.042},{"x":1390,"y":0.006},{"x":1392,"y":0.014},{"x":1390,"y":0.022},
{"x":1875,"y":0.004},{"x":1877,"y":0.012},{"x":1875,"y":0.02},{"x":1878,"y":0.03},{"x":2355,"y":0.006},{"x":2357,"y":0.014},{"x":2355,"y":0.022},{"x":2358,"y":0.03},
{"x":3120,"y":0.005},{"x":3140,"y":0.015},{"x":3160,"y":0.025},{"x":3180,"y":0.01},{"x":3200,"y":0.02},{"x":3220,"y":0.004},{"x":3240,"y":0.012},{"x":3260,"y":0.022},{"x":3280,"y":0.008},{"x":3300,"y":0.018},{"x":3320,"y":0.03},{"x":3340,"y":0.006},{"x":3250,"y":0.035},{"x":3230,"y":0.042},{"x":3270,"y":0.05},{"x":3190,"y":0.06},{"x":3150,"y":0.04},{"x":3300,"y":0.045},{"x":3210,"y":0.028},{"x":3290,"y":0.002},
{"x":3800,"y":0.004},{"x":3802,"y":0.012},{"x":3800,"y":0.02},{"x":3803,"y":0.028},{"x":3800,"y":0.036},{"x":6150,"y":0.03},{"x":9490,"y":0.005}
]},
"layer":[
{"data":{"name":"real"},"mark":{"type":"circle","size":19,"opacity":1},"encoding":{
"x":{"field":"x","type":"quantitative","scale":{"domain":[0,10170],"nice":false,"zero":false},"axis":{"values":[0,500,1000,1500,2000,2500,3000,3500,4000,4500,5000,5500,6000,6500,7000,7500,8000,8500,9000,9500,10000],"labelExpr":"datum.value % 5000 === 0 ? format(datum.value,'d') : ''","tickSize":{"condition":{"test":"datum.value % 5000 === 0","value":12},"value":7},"labelPadding":6,"title":"Sequence number","titlePadding":12,"labelFlush":false,"labelOverlap":false}},
"y":{"field":"y","type":"quantitative","scale":{"domain":[0,0.8],"nice":false,"zero":false},"axis":{"values":[0,0.2,0.4,0.6,0.8],"format":".1f","tickSize":11,"labelPadding":4,"title":"Elapsed time","titlePadding":11}},
"color":{"datum":"Real coordinates","type":"nominal","scale":{"domain":["Random coordinates","Real coordinates"],"range":["#0000ff","#ff0000"]}}}},
{"data":{"name":"random"},"mark":{"type":"circle","size":19,"opacity":1},"encoding":{
"x":{"field":"x","type":"quantitative"},
"y":{"field":"y","type":"quantitative"},
"color":{"datum":"Random coordinates","type":"nominal"}}}
]}
